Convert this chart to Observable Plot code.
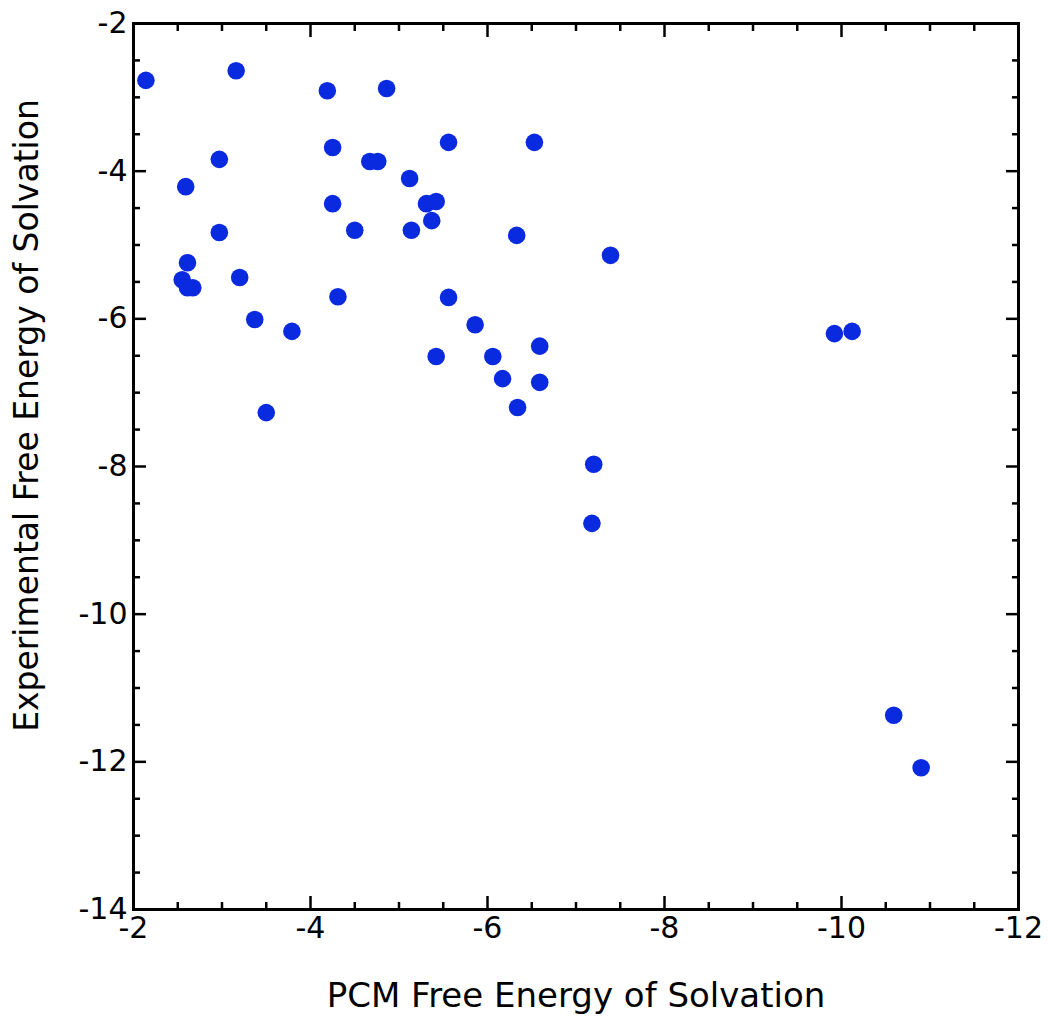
<!DOCTYPE html>
<html>
<head>
<meta charset="utf-8">
<script src="https://cdn.jsdelivr.net/npm/d3@7"></script>
<script src="https://cdn.jsdelivr.net/npm/@observablehq/plot@0.6"></script>
<style>
  html, body { margin: 0; padding: 0; background: #fff; }
  #chart svg { display: block; }
</style>
</head>
<body>
<div id="chart"></div>
<script>
// PCM free energy of solvation (x) and experimental free energy of solvation (y)
const pcm = [-2.14, -3.16, -4.19, -4.86, -4.25, -5.56, -6.53, -2.97, -4.67, -4.76,
             -2.59, -5.12, -4.25, -5.31, -5.42, -5.37, -2.97, -4.50, -5.14, -6.33,
             -7.39, -2.61, -2.55, -3.20, -2.61, -2.67, -4.31, -5.56, -3.37, -3.79,
             -5.86, -9.92, -10.12, -6.59, -5.42, -6.06, -6.17, -6.59, -6.34, -3.50,
             -7.20, -7.18, -10.59, -10.90];
const experimental = [-2.77, -2.64, -2.91, -2.88, -3.68, -3.61, -3.61, -3.84, -3.87, -3.87,
             -4.21, -4.10, -4.44, -4.44, -4.41, -4.67, -4.83, -4.80, -4.80, -4.87,
             -5.14, -5.24, -5.47, -5.44, -5.58, -5.58, -5.70, -5.71, -6.01, -6.17,
             -6.08, -6.20, -6.17, -6.37, -6.51, -6.51, -6.81, -6.86, -7.20, -7.27,
             -7.97, -8.77, -11.37, -12.08];

const xMajorTicks = [-2, -4, -6, -8, -10, -12];
const yMajorTicks = [-2, -4, -6, -8, -10, -12, -14];
const xMinorTicks = d3.range(-2, -12.01, -0.5).filter(v => !xMajorTicks.includes(v));
const yMinorTicks = d3.range(-2, -14.01, -0.5).filter(v => !yMajorTicks.includes(v));

const xTitle = "PCM Free Energy of Solvation";
const yTitle = "Experimental Free Energy of Solvation";

const data = pcm.map((x, i) => ({x, y: experimental[i]}));

const font = "DejaVu Sans";
const tickFont = 30;
const majorLen = 13;
const minorLen = 7;
const blank = () => "";

const chart = Plot.plot({
  width: 1050,
  height: 1032,
  marginLeft: 133,
  marginRight: 32,
  marginTop: 23,
  marginBottom: 123,
  style: {fontFamily: font, color: "#000", background: "#fff", overflow: "visible"},
  x: {domain: [-2, -12]},
  y: {domain: [-14, -2]},
  marks: [
    Plot.dot(data, {x: "x", y: "y", r: 8.8, fill: "#0a2ae0", stroke: "none"}),
    Plot.frame({stroke: "#000", strokeWidth: 3}),
    // major ticks, inward, all sides
    Plot.axisX(xMajorTicks, {anchor: "bottom", tickSize: -majorLen, tickPadding: majorLen + 7, fontSize: tickFont, strokeWidth: 2.5, label: null, tickFormat: d => String(d)}),
    Plot.axisX(xMajorTicks, {anchor: "top", tickSize: -majorLen, strokeWidth: 2.5, label: null, tickFormat: blank}),
    Plot.axisY(yMajorTicks, {anchor: "left", tickSize: -majorLen, tickPadding: majorLen + 6, fontSize: tickFont, strokeWidth: 2.5, label: null, tickFormat: d => String(d)}),
    Plot.axisY(yMajorTicks, {anchor: "right", tickSize: -majorLen, strokeWidth: 2.5, label: null, tickFormat: blank}),
    // minor ticks
    Plot.axisX(xMinorTicks, {anchor: "bottom", tickSize: -minorLen, strokeWidth: 2.5, label: null, tickFormat: blank}),
    Plot.axisX(xMinorTicks, {anchor: "top", tickSize: -minorLen, strokeWidth: 2.5, label: null, tickFormat: blank}),
    Plot.axisY(yMinorTicks, {anchor: "left", tickSize: -minorLen, strokeWidth: 2.5, label: null, tickFormat: blank}),
    Plot.axisY(yMinorTicks, {anchor: "right", tickSize: -minorLen, strokeWidth: 2.5, label: null, tickFormat: blank}),
    // axis titles
    Plot.text([xTitle], {frameAnchor: "bottom", textAnchor: "middle", lineAnchor: "middle", dy: 87, fontSize: 34, fill: "#000"}),
    Plot.text([yTitle], {frameAnchor: "left", textAnchor: "middle", lineAnchor: "middle", rotate: -90, dx: -106, dy: -51, fontSize: 33, fill: "#000"})
  ]
});

document.getElementById("chart").appendChild(chart);
</script>
</body>
</html>
